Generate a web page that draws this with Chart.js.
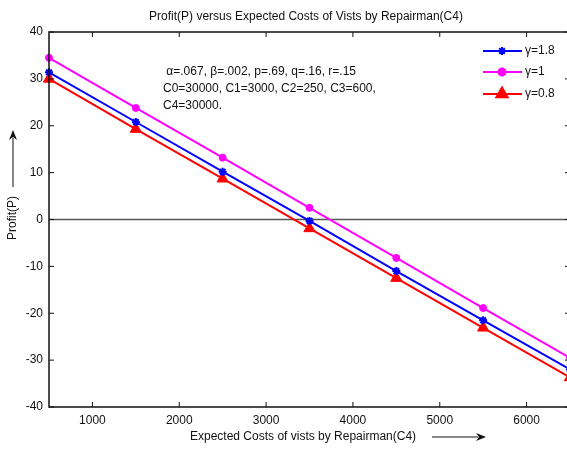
<!DOCTYPE html>
<html lang="en">
<head>
<meta charset="UTF-8">
<title>Profit versus Expected Costs</title>
<script src="https://cdn.jsdelivr.net/npm/chart.js"></script>
<style>
    * { margin: 0; padding: 0; box-sizing: border-box; }
    html, body { background: #fff; width: 567px; height: 449px; overflow: hidden; }
    #wrap { width: 570px; height: 449px; }
</style>
</head>
<body>
<div id="wrap"><canvas id="chart"></canvas></div>
<script>
    // data
    var costs = [500, 1500, 2500, 3500, 4500, 5500, 6500];
    var profitG18 = [31.4, 20.8, 10.2, -0.3, -11.0, -21.5, -32.0];
    var profitG1 = [34.5, 23.8, 13.2, 2.5, -8.2, -18.9, -29.5];
    var profitG08 = [30.0, 19.3, 8.7, -1.9, -12.5, -23.1, -33.7];
    var seriesNames = ['\u03b3=1.8', '\u03b3=1', '\u03b3=0.8'];
    var xTicks = [1000, 2000, 3000, 4000, 5000, 6000];
    var yTicks = [-40, -30, -20, -10, 0, 10, 20, 30, 40];
    var noteLines = [
        ' \u03b1=.067, \u03b2=.002, p=.69, q=.16, r=.15',
        'C0=30000, C1=3000, C2=250, C3=600,',
        'C4=30000.'
    ];

    var FONT = '"Liberation Sans", Arial, sans-serif';

    function pts(ys) {
        return costs.map(function (c, i) { return { x: c, y: ys[i] }; });
    }

    function arrowHead(ctx, x, y, dir) {
        // dir: 'up' or 'right'
        ctx.beginPath();
        if (dir === 'up') {
            ctx.moveTo(x, y);
            ctx.lineTo(x - 4, y + 10);
            ctx.lineTo(x, y + 7);
            ctx.lineTo(x + 4, y + 10);
        } else {
            ctx.moveTo(x, y);
            ctx.lineTo(x - 10, y - 4);
            ctx.lineTo(x - 7, y);
            ctx.lineTo(x - 10, y + 4);
        }
        ctx.closePath();
        ctx.fill();
    }

    var matlabAxes = {
        id: 'matlabAxes',
        beforeDatasetsDraw: function (chart) {
            var ctx = chart.ctx, a = chart.chartArea, y = chart.scales.y;
            var y0 = y.getPixelForValue(0);
            ctx.save();
            ctx.strokeStyle = '#555';
            ctx.lineWidth = 1.5;
            ctx.beginPath();
            ctx.moveTo(a.left, y0);
            ctx.lineTo(a.right, y0);
            ctx.stroke();
            ctx.restore();
        },
        afterDraw: function (chart) {
            var ctx = chart.ctx, a = chart.chartArea;
            var xs = chart.scales.x, ys = chart.scales.y;
            ctx.save();
            // box
            ctx.strokeStyle = '#111';
            ctx.lineWidth = 1.5;
            ctx.strokeRect(a.left, a.top, a.right - a.left, a.bottom - a.top);
            // inner ticks
            ctx.lineWidth = 1;
            ctx.beginPath();
            xTicks.forEach(function (v) {
                var px = xs.getPixelForValue(v);
                ctx.moveTo(px, a.bottom); ctx.lineTo(px, a.bottom - 5);
                ctx.moveTo(px, a.top); ctx.lineTo(px, a.top + 5);
            });
            yTicks.forEach(function (v) {
                var py = ys.getPixelForValue(v);
                ctx.moveTo(a.left, py); ctx.lineTo(a.left + 5, py);
                ctx.moveTo(a.right, py); ctx.lineTo(a.right - 5, py);
            });
            ctx.stroke();

            ctx.fillStyle = '#111';
            ctx.strokeStyle = '#111';
            // title
            ctx.font = '12px ' + FONT;
            ctx.textAlign = 'center';
            ctx.textBaseline = 'middle';
            ctx.fillText('Profit(P) versus Expected Costs of Vists by Repairman(C4)', 306, 17);

            // x label + arrow
            ctx.textAlign = 'left';
            ctx.fillText('Expected Costs of vists by Repairman(C4)', 190, 437);
            ctx.lineWidth = 1;
            ctx.beginPath();
            ctx.moveTo(432, 437); ctx.lineTo(478, 437);
            ctx.stroke();
            arrowHead(ctx, 486, 437, 'right');

            // y label + arrow
            ctx.save();
            ctx.translate(13, 218);
            ctx.rotate(-Math.PI / 2);
            ctx.textAlign = 'center';
            ctx.fillText('Profit(P)', 0, 0);
            ctx.restore();
            ctx.beginPath();
            ctx.moveTo(13, 187); ctx.lineTo(13, 138);
            ctx.stroke();
            arrowHead(ctx, 13, 130, 'up');

            // parameter note
            ctx.textAlign = 'left';
            noteLines.forEach(function (t, i) {
                ctx.fillText(t, 163, 72 + i * 17);
            });

            // legend
            var ly = [51, 72, 94];
            chart.data.datasets.forEach(function (ds, i) {
                ctx.strokeStyle = ds.borderColor;
                ctx.fillStyle = ds.borderColor;
                ctx.lineWidth = 2;
                ctx.beginPath();
                ctx.moveTo(483, ly[i]); ctx.lineTo(522, ly[i]);
                ctx.stroke();
                Chart.helpers.drawPoint(ctx, {
                    pointStyle: ds.pointStyle,
                    radius: ds.pointRadius,
                    borderWidth: ds.pointBorderWidth || 1,
                    rotation: 0
                }, 502, ly[i]);
                ctx.fillStyle = '#111';
                ctx.fillText(ds.label, 525, ly[i]);
            });
            ctx.restore();
        }
    };

    var ctx = document.getElementById('chart').getContext('2d');
    var myChart = new Chart(ctx, {
        type: 'scatter',
        data: {
            datasets: [{
                label: seriesNames[0],
                data: pts(profitG18),
                borderColor: '#0000ff',
                backgroundColor: '#0000ff',
                pointStyle: 'star',
                pointRadius: 4,
                pointBorderWidth: 2,
                borderWidth: 2,
                showLine: true
            }, {
                label: seriesNames[1],
                data: pts(profitG1),
                borderColor: '#ff00ff',
                backgroundColor: '#ff00ff',
                pointStyle: 'circle',
                pointRadius: 3.5,
                pointBorderWidth: 1,
                borderWidth: 2,
                showLine: true
            }, {
                label: seriesNames[2],
                data: pts(profitG08),
                borderColor: '#ff0000',
                backgroundColor: '#ff0000',
                pointStyle: 'triangle',
                pointRadius: 6.5,
                pointBorderWidth: 1,
                borderWidth: 2,
                showLine: true
            }]
        },
        options: {
            responsive: true,
            maintainAspectRatio: false,
            animation: false,
            clip: false,
            layout: { autoPadding: false, padding: { top: 32, right: 0, left: 0, bottom: 0 } },
            plugins: {
                legend: { display: false },
                tooltip: { enabled: false }
            },
            scales: {
                x: {
                    type: 'linear',
                    min: 500,
                    max: 6500,
                    afterBuildTicks: function (s) { s.ticks = xTicks.map(function (v) { return { value: v }; }); },
                    afterFit: function (s) { s.height = 42; s.paddingLeft = 0; s.paddingRight = 0; },
                    grid: { display: false, drawTicks: false },
                    border: { display: false },
                    ticks: {
                        padding: 6, color: '#111', font: { family: FONT, size: 12 }, maxRotation: 0,
                        callback: function (v) { return String(v); }
                    }
                },
                y: {
                    min: -40,
                    max: 40,
                    afterBuildTicks: function (s) { s.ticks = yTicks.map(function (v) { return { value: v }; }); },
                    afterFit: function (s) { s.width = 49; s.paddingTop = 0; s.paddingBottom = 0; },
                    grid: { display: false, drawTicks: false },
                    border: { display: false },
                    ticks: { padding: 6, color: '#111', font: { family: FONT, size: 12 } }
                }
            }
        },
        plugins: [matlabAxes]
    });
</script>
</body>
</html>
